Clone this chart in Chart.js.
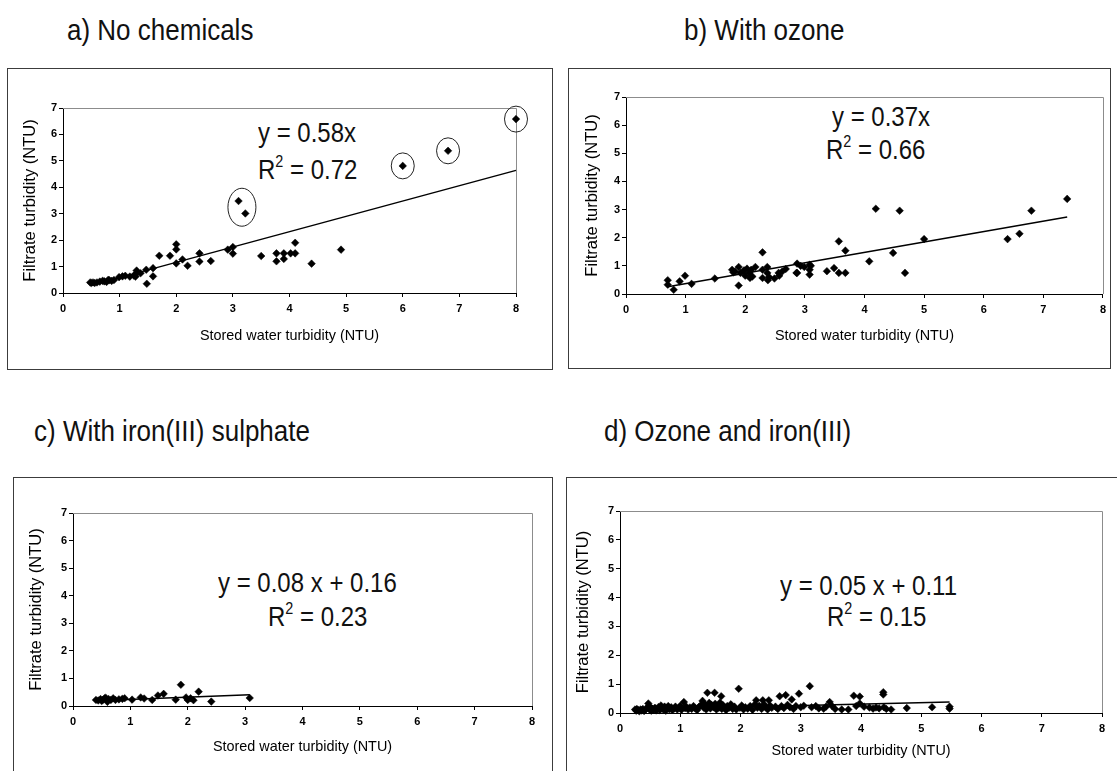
<!DOCTYPE html>
<html><head><meta charset="utf-8">
<script src="https://cdn.jsdelivr.net/npm/chart.js@4.4.0/dist/chart.umd.min.js"></script>
<style>
html,body{margin:0;padding:0;background:#fff;}
body{width:1117px;height:771px;overflow:hidden;position:relative;font-family:"Liberation Sans",Arial,Helvetica,sans-serif;color:#111;}
.box{position:absolute;border:1px solid #3c3c3c;box-sizing:border-box;}
.ptitle{position:absolute;font-size:26px;white-space:nowrap;line-height:1;transform:scaleY(1.14);transform-origin:50% 50%;}
.eq{position:absolute;font-size:24px;white-space:nowrap;line-height:1;transform:scaleY(1.14);transform-origin:50% 50%;}
.eq sup{font-size:0.6em;line-height:0;position:relative;top:-0.15em;}
canvas{position:absolute;}
</style></head><body>
<div class="box" style="left:7px;top:68px;width:546px;height:302px"></div>
<div class="box" style="left:568px;top:68px;width:543px;height:301px"></div>
<div class="box" style="left:13px;top:477px;width:540px;height:310px"></div>
<div class="box" style="left:566px;top:477px;width:560px;height:310px"></div>

<div class="ptitle" style="left:67px;top:17px">a) No chemicals</div>
<div class="ptitle" style="left:684px;top:17px">b) With ozone</div>
<div class="ptitle" style="left:34px;top:418px">c) With iron(III) sulphate</div>
<div class="ptitle" style="left:604px;top:418px">d) Ozone and iron(III)</div>

<div class="eq" style="left:258px;top:121px">y = 0.58x</div>
<div class="eq" style="left:258px;top:158px">R<sup>2</sup> = 0.72</div>
<div class="eq" style="left:832px;top:105px">y = 0.37x</div>
<div class="eq" style="left:826px;top:138px">R<sup>2</sup> = 0.66</div>
<div class="eq" style="left:218px;top:571px">y = 0.08 x + 0.16</div>
<div class="eq" style="left:268px;top:605px">R<sup>2</sup> = 0.23</div>
<div class="eq" style="left:780px;top:574px">y = 0.05 x + 0.11</div>
<div class="eq" style="left:827px;top:605px">R<sup>2</sup> = 0.15</div>

<canvas id="ca"></canvas>
<canvas id="cb"></canvas>
<canvas id="cc"></canvas>
<canvas id="cd"></canvas>

<script>
// ---------- DATA ----------
const xTickValues = [0,1,2,3,4,5,6,7,8];
const yTickValues = [0,1,2,3,4,5,6,7];
const xAxisTitle = "Stored water turbidity (NTU)";
const yAxisTitle = "Filtrate turbidity (NTU)";

// a) No chemicals
const aX = [0.48,0.5,0.53,0.56,0.6,0.65,0.7,0.73,0.77,0.8,0.82,0.86,0.9,0.99,1.05,1.1,1.18,1.25,1.28,1.3,1.3,1.37,1.47,1.48,1.59,1.59,1.7,1.89,2.0,2.0,2.0,2.11,2.2,2.41,2.41,2.61,2.91,3.0,3.0,3.1,3.22,3.5,3.77,3.77,3.9,3.9,4.02,4.1,4.1,4.39,4.91,6.0,6.8,8.0];
const aY = [0.40,0.38,0.40,0.38,0.40,0.43,0.46,0.44,0.42,0.50,0.48,0.46,0.49,0.60,0.63,0.65,0.62,0.66,0.62,0.85,0.75,0.75,0.88,0.35,0.94,0.63,1.41,1.41,1.84,1.65,1.12,1.27,1.03,1.50,1.19,1.21,1.64,1.74,1.49,3.48,3.01,1.40,1.50,1.20,1.50,1.29,1.50,1.90,1.50,1.11,1.64,4.81,5.38,6.58];
const aCircledGroups = [[39,40],[51],[52],[53]];

// b) With ozone
const bX = [0.70,0.70,0.80,0.90,0.99,1.10,1.49,1.78,1.80,1.83,1.89,1.89,1.92,1.98,2.00,2.03,2.07,2.08,2.10,2.12,2.17,2.29,2.29,2.29,2.37,2.37,2.38,2.40,2.49,2.56,2.57,2.62,2.68,2.86,2.87,2.87,2.93,2.99,3.08,3.08,3.08,3.10,3.37,3.49,3.57,3.57,3.68,3.68,4.08,4.19,4.48,4.59,4.68,5.00,6.40,6.60,6.80,7.40];
const bY = [0.49,0.33,0.15,0.45,0.65,0.36,0.55,0.86,0.77,0.80,0.96,0.30,0.75,0.84,0.65,0.90,0.75,0.57,0.86,0.62,0.96,1.48,0.86,0.57,0.96,0.75,0.49,0.60,0.55,0.75,0.65,0.80,0.89,0.75,1.08,0.75,1.00,0.96,1.04,0.86,0.69,1.00,0.81,0.92,1.87,0.75,1.54,0.75,1.16,3.03,1.46,2.96,0.75,1.95,1.95,2.14,2.96,3.38];

// c) With iron(III) sulphate
const cX = [0.40,0.44,0.48,0.50,0.52,0.55,0.57,0.60,0.62,0.66,0.70,0.74,0.80,0.86,0.90,1.03,1.18,1.24,1.38,1.48,1.58,1.79,1.88,1.97,2.00,2.05,2.10,2.19,2.41,3.08];
const cY = [0.22,0.20,0.25,0.18,0.22,0.28,0.30,0.15,0.25,0.22,0.28,0.22,0.24,0.26,0.28,0.23,0.31,0.27,0.22,0.38,0.44,0.23,0.77,0.31,0.22,0.28,0.21,0.52,0.16,0.29];

// d) Ozone and iron(III)
const dX = [0.25,0.27,0.28,0.30,0.32,0.34,0.36,0.38,0.40,0.42,
  0.45,0.47,0.48,0.49,0.50,0.52,0.54,0.56,0.58,0.60,
  0.62,0.64,0.66,0.68,0.70,0.72,0.74,0.76,0.78,0.80,
  0.82,0.85,0.87,0.90,0.92,0.95,0.98,1.00,1.02,1.06,
  1.08,1.10,1.13,1.16,1.19,1.22,1.25,1.28,1.31,1.34,
  1.37,1.39,1.41,1.43,1.45,1.46,1.48,1.50,1.52,1.55,
  1.57,1.58,1.60,1.62,1.64,1.66,1.68,1.69,1.71,1.73,
  1.76,1.78,1.81,1.84,1.87,1.90,1.93,1.97,1.99,2.02,
  2.05,2.08,2.12,2.16,2.20,2.24,2.26,2.28,2.31,2.35,
  2.37,2.39,2.42,2.45,2.47,2.49,2.52,2.58,2.62,2.65,
  2.68,2.72,2.75,2.78,2.82,2.85,2.88,2.92,2.97,3.00,
  3.05,3.15,3.18,3.25,3.30,3.38,3.42,3.48,3.52,3.57,
  3.68,3.79,3.88,3.92,3.98,3.98,4.05,4.14,4.20,4.25,
  4.30,4.37,4.37,4.38,4.42,4.50,4.76,5.18,5.47,5.47];
const dY = [0.12,0.08,0.14,0.10,0.06,0.12,0.09,0.14,0.07,0.11,
  0.18,0.33,0.25,0.12,0.20,0.08,0.15,0.11,0.18,0.09,
  0.14,0.21,0.10,0.26,0.16,0.12,0.22,0.08,0.18,0.24,
  0.13,0.20,0.10,0.16,0.22,0.12,0.18,0.25,0.11,0.38,
  0.17,0.22,0.12,0.19,0.14,0.24,0.16,0.10,0.21,0.27,
  0.42,0.18,0.30,0.12,0.70,0.24,0.35,0.16,0.28,0.20,
  0.70,0.32,0.12,0.25,0.18,0.36,0.58,0.14,0.27,0.20,
  0.10,0.24,0.18,0.30,0.14,0.22,0.12,0.84,0.18,0.26,
  0.12,0.20,0.15,0.24,0.11,0.30,0.44,0.18,0.25,0.14,
  0.44,0.30,0.20,0.12,0.44,0.26,0.18,0.22,0.14,0.58,
  0.24,0.17,0.62,0.28,0.20,0.47,0.14,0.24,0.67,0.20,
  0.25,0.93,0.20,0.24,0.16,0.15,0.22,0.38,0.24,0.14,
  0.12,0.12,0.60,0.24,0.57,0.33,0.22,0.19,0.15,0.19,
  0.16,0.72,0.64,0.20,0.14,0.12,0.17,0.20,0.22,0.15];

// fitted trend lines shown on each panel: y = slope * x + intercept
const trendSlopes = [0.58, 0.37, 0.08, 0.05];
const trendIntercepts = [0, 0, 0.16, 0.11];

// ---------- LAYOUT (page pixels) ----------
const layouts = [
  {id:'ca', box:{l:7,t:68,w:546,h:302}, plot:{l:63,t:108,r:516,b:293}, xTitleY:336, yTitleX:30},
  {id:'cb', box:{l:568,t:68,w:543,h:301}, plot:{l:626,t:97,r:1103,b:294}, xTitleY:336, yTitleX:592},
  {id:'cc', box:{l:13,t:477,w:540,h:300}, plot:{l:73,t:513,r:532,b:706}, xTitleY:747, yTitleX:36},
  {id:'cd', box:{l:566,t:477,w:551,h:300}, plot:{l:620,t:511,r:1102,b:713}, xTitleY:751, yTitleX:583}
];

Chart.defaults.font.family = '"Liberation Sans", Arial, Helvetica, sans-serif';
Chart.defaults.color = '#000';

const framePlugin = {
  id: 'frame',
  beforeDatasetsDraw(chart) {
    const a = chart.chartArea, ctx = chart.ctx;
    ctx.save();
    ctx.strokeStyle = '#8c8c8c';
    ctx.lineWidth = 1;
    ctx.beginPath();
    ctx.moveTo(a.left, Math.round(a.top) + 0.5);
    ctx.lineTo(Math.round(a.right) + 0.5, Math.round(a.top) + 0.5);
    ctx.lineTo(Math.round(a.right) + 0.5, a.bottom);
    ctx.stroke();
    ctx.restore();
  },
  afterDatasetsDraw(chart, args, opts) {
    const groups = opts.groups || [];
    if (!groups.length) return;
    const ctx = chart.ctx, xs = chart.scales.x, ys = chart.scales.y;
    const pts = chart.data.datasets[0].data;
    ctx.save();
    ctx.strokeStyle = '#222';
    ctx.lineWidth = 1;
    groups.forEach(g => {
      let cx = 0, cy = 0;
      g.forEach(i => { cx += xs.getPixelForValue(pts[i].x); cy += ys.getPixelForValue(pts[i].y); });
      cx /= g.length; cy /= g.length;
      const rx = g.length > 1 ? 14 : 11.5, ry = g.length > 1 ? 19 : 13;
      ctx.beginPath();
      ctx.ellipse(cx, cy, rx, ry, 0, 0, Math.PI * 2);
      ctx.stroke();
    });
    ctx.restore();
  }
};

function makeChart(L, xs, ys, slope, icpt, circles) {
  const cv = document.getElementById(L.id);
  cv.width = L.box.w; cv.height = L.box.h;
  cv.style.left = L.box.l + 'px'; cv.style.top = L.box.t + 'px';
  cv.style.width = L.box.w + 'px'; cv.style.height = L.box.h + 'px';
  const pts = xs.map((x, i) => ({x: x, y: ys[i]}));
  const xmin = Math.min.apply(null, xs), xmax = Math.max.apply(null, xs);
  const trend = [{x: xmin, y: slope * xmin + icpt}, {x: xmax, y: slope * xmax + icpt}];
  const xtSize = 14.4, xlh = xtSize * 1.2;
  const ytSize = 16.5, ylh = ytSize * 1.2;
  const yW = L.plot.l - L.box.l;
  const padTop = L.plot.t - L.box.t;
  const padRight = L.box.l + L.box.w - L.plot.r;
  const xH = L.xTitleY - L.plot.b + 12;
  const padBottom = Math.max(0, L.box.h - (L.plot.b - L.box.t) - xH);
  new Chart(cv, {
    type: 'scatter',
    data: {
      datasets: [
        {data: pts, pointStyle: 'rectRot', pointRadius: 3.8, pointBackgroundColor: '#000', pointBorderColor: '#000', pointBorderWidth: 0.5, clip: false, order: 1},
        {data: trend, showLine: true, pointRadius: 0, borderColor: '#000', borderWidth: 1.5, clip: false, order: 0}
      ]
    },
    options: {
      responsive: false, animation: false, devicePixelRatio: 1,
      events: [],
      layout: {padding: {left: 0, top: padTop, right: padRight, bottom: padBottom}},
      plugins: {legend: {display: false}, tooltip: {enabled: false}, frame: {groups: circles || []}},
      scales: {
        x: {
          type: 'linear', min: 0, max: 8,
          afterBuildTicks: s => { s.ticks = xTickValues.map(v => ({value: v})); },
          afterFit: s => { s.height = xH; },
          ticks: {font: {size: 11, weight: 'bold'}, padding: 5, color: '#000', maxRotation: 0, autoSkip: false},
          grid: {display: true, drawOnChartArea: false, drawTicks: true, tickLength: 4, color: '#000'},
          border: {display: true, color: '#000', width: 1},
          title: {display: true, text: xAxisTitle, font: {size: xtSize}, color: '#000', padding: {top: 0, bottom: 12 - xlh / 2}}
        },
        y: {
          type: 'linear', min: 0, max: 7,
          afterBuildTicks: s => { s.ticks = yTickValues.map(v => ({value: v})); },
          afterFit: s => { s.width = yW; },
          ticks: {font: {size: 11, weight: 'bold'}, padding: 2, color: '#000', autoSkip: false},
          grid: {display: true, drawOnChartArea: false, drawTicks: true, tickLength: 4, color: '#000'},
          border: {display: true, color: '#000', width: 1},
          title: {display: true, text: yAxisTitle, font: {size: ytSize}, color: '#000', padding: {top: L.yTitleX - L.box.l - ylh / 2, bottom: 0}}
        }
      }
    },
    plugins: [framePlugin]
  });
}

makeChart(layouts[0], aX, aY, trendSlopes[0], trendIntercepts[0], aCircledGroups);
makeChart(layouts[1], bX, bY, trendSlopes[1], trendIntercepts[1]);
makeChart(layouts[2], cX, cY, trendSlopes[2], trendIntercepts[2]);
makeChart(layouts[3], dX, dY, trendSlopes[3], trendIntercepts[3]);
</script>
</body></html>
